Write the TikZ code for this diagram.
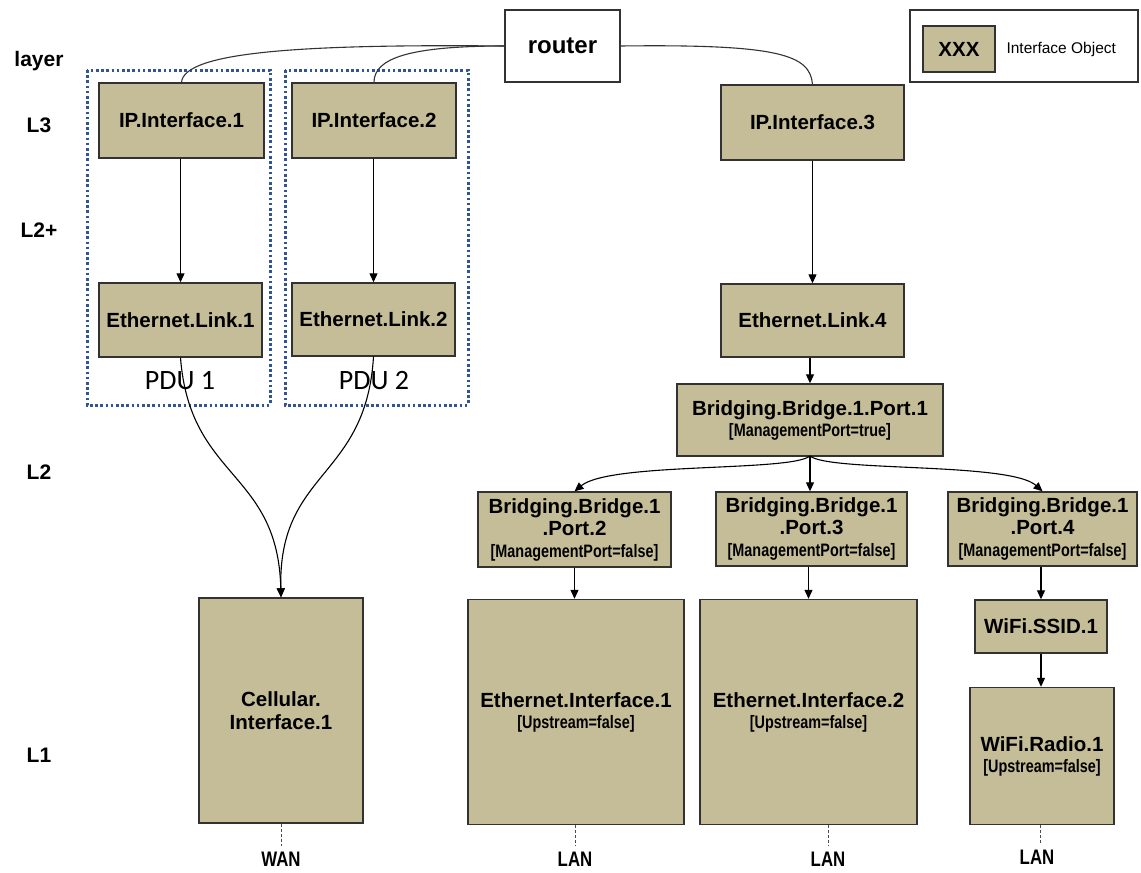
\documentclass[tikz,border=0pt]{standalone}
\usepackage{fontspec}
\setmainfont{Liberation Sans}
\newfontfamily\calib{Carlito}
\usepackage{graphicx}
\usetikzlibrary{arrows.meta}
\definecolor{tan}{RGB}{196,189,151}
\definecolor{pdublue}{RGB}{47,85,151}
\definecolor{edge}{RGB}{50,50,50}
\newcommand{\nar}[1]{\scalebox{0.8}[1]{#1}}
\newcommand{\ttl}{\fontsize{20.5}{23}\selectfont\bfseries}
\newcommand{\sub}{\fontsize{18}{19}\selectfont\bfseries}
\tikzset{
  x=1pt, y=-1pt,
  obj/.style={draw=edge, line width=1.4pt, fill=tan, inner sep=0pt, align=center, font=\ttl},
  plain/.style={draw=edge, line width=1.2pt, fill=white, inner sep=0pt, align=center},
  pdu/.style={draw=pdublue, line width=3pt, dash pattern=on 2.6pt off 2.6pt},
  conn/.style={line width=1.1pt, draw=black, -{Triangle[length=9pt,width=8pt]}},
  link/.style={line width=1.1pt, draw=black!80},
  wire/.style={draw=black!70, line width=0.8pt, dash pattern=on 3pt off 2pt},
  lay/.style={font=\fontsize{21}{24}\selectfont\bfseries},
  outlet/.style={font=\fontsize{21}{24}\selectfont\bfseries},
}
\begin{document}
\begin{tikzpicture}
\useasboundingbox (0,0) rectangle (1141,873);
% layer labels
\node[lay] (layer) at (39,61) {layer};
\node[lay] (l3) at (39,125) {L3};
\node[lay] (l2p) at (39,230) {L2+};
\node[lay] (l2) at (39,472) {L2};
\node[lay] (l1) at (39,755) {L1};
% legend
\node[plain, minimum width=228pt, minimum height=72pt] (legend) at (1024,46) {};
\node[obj, minimum width=72pt, minimum height=46pt] (legbox) at (959,49) {XXX};
\node[anchor=west, font=\fontsize{15.5}{18}\selectfont] (legtext) at (1003,49) {Interface Object};
% router
\node[plain, minimum width=115pt, minimum height=72pt, font=\fontsize{24}{26}\selectfont\bfseries] (router) at (562.5,46) {router};
% PDU frames
\draw[pdu] (87,70) rectangle (270,405);
\draw[pdu] (285,70) rectangle (468,405);
\node[font=\calib\fontsize{28}{30}\selectfont] (pdu1) at (180,381) {PDU 1};
\node[font=\calib\fontsize{28}{30}\selectfont] (pdu2) at (374,381) {PDU 2};
% objects
\node[obj, minimum width=165pt, minimum height=75pt] (ip1) at (181.5,120.5) {IP.Interface.1};
\node[obj, minimum width=164pt, minimum height=75pt] (ip2) at (374,120.5) {IP.Interface.2};
\node[obj, minimum width=163pt, minimum height=74pt] (eth1) at (180.5,320) {Ethernet.Link.1};
\node[obj, minimum width=163pt, minimum height=73pt] (eth2) at (373.5,319.5) {Ethernet.Link.2};
\node[obj, minimum width=183pt, minimum height=75pt] (ip3) at (812.5,122.5) {IP.Interface.3};
\node[obj, minimum width=183pt, minimum height=73pt] (eth4) at (812.5,320.5) {Ethernet.Link.4};
\node[obj, minimum width=266pt, minimum height=72pt] (br1) at (810,420)
  {Bridging.Bridge.1.Port.1\\[-2pt]{\sub\nar{[ManagementPort=true]}}};
\node[obj, minimum width=193pt, minimum height=75pt] (br2) at (574.5,529.5)
  {Bridging.Bridge.1\\[-1pt].Port.2\\[-1pt]{\sub\nar{[ManagementPort=false]}}};
\node[obj, minimum width=191pt, minimum height=74pt] (br3) at (811.5,529)
  {Bridging.Bridge.1\\[-1pt].Port.3\\[-1pt]{\sub\nar{[ManagementPort=false]}}};
\node[obj, minimum width=189pt, minimum height=74pt] (br4) at (1042.5,529)
  {Bridging.Bridge.1\\[-1pt].Port.4\\[-1pt]{\sub\nar{[ManagementPort=false]}}};
\node[obj, minimum width=164pt, minimum height=225pt] (cell) at (281,710.5)
  {Cellular.\\Interface.1};
\node[obj, minimum width=216pt, minimum height=225pt] (ethif1) at (576,712)
  {Ethernet.Interface.1\\[-2pt]{\sub\nar{[Upstream=false]}}};
\node[obj, minimum width=217pt, minimum height=225pt] (ethif2) at (808.5,712)
  {Ethernet.Interface.2\\[-2pt]{\sub\nar{[Upstream=false]}}};
\node[obj, minimum width=132pt, minimum height=53pt] (ssid) at (1041,626.5) {WiFi.SSID.1};
\node[obj, minimum width=144pt, minimum height=137pt] (radio) at (1042,756)
  {WiFi.Radio.1\\[-2pt]{\sub\nar{[Upstream=false]}}};
% router links
\draw[link] (router.west) .. controls (300,44) and (184,52) .. (ip1.north);
\draw[link] (router.west) .. controls (410,46) and (374,58) .. (ip2.north);
\draw[link] (router.east) .. controls (780,44) and (810,55) .. (ip3.north);
% arrows
\draw[conn] (ip1.south -| eth1.north) -- (eth1.north);
\draw[conn] (ip2.south -| eth2.north) -- (eth2.north);
\draw[conn] (ip3.south) -- (eth4.north);
\draw[conn] (eth4.south -| br1.north) -- (br1.north);
\draw[conn] (eth1.south) .. controls (190,480) and (278,470) .. (cell.north);
\draw[conn] (eth2.south) .. controls (366,480) and (278,470) .. (cell.north);
\coordinate (br1b) at (810,456);
\draw[conn] (br1b) .. controls (790,472) and (610,462) .. (br2.north);
\draw[conn] (br1b) -- (br1b |- br3.north);
\draw[conn] (br1b) .. controls (830,472) and (1010,462) .. (br4.north);
\draw[conn] (br2.south) -- (br2.south |- ethif1.north);
\draw[conn] (br3.south -| ethif2.north) -- (ethif2.north);
\draw[conn] (br4.south -| ssid.north) -- (ssid.north);
\draw[conn] (ssid.south) -- (ssid.south |- radio.north);
% outlets
\node[outlet] (wan) at (281,859) {\nar{WAN}};
\node[outlet] (lan1) at (575,859) {\nar{LAN}};
\node[outlet] (lan2) at (828,859) {\nar{LAN}};
\node[outlet] (lan3) at (1037,857) {\nar{LAN}};
\coordinate (wanend) at (281,846);
\coordinate (lan1end) at (575,846);
\coordinate (lan2end) at (828,846);
\coordinate (lan3end) at (1040,843);
\draw[wire] (cell.south) -- (wanend);
\draw[wire] (ethif1.south -| lan1end) -- (lan1end);
\draw[wire] (ethif2.south -| lan2end) -- (lan2end);
\draw[wire] (radio.south -| lan3end) -- (lan3end);
\end{tikzpicture}
\end{document}
